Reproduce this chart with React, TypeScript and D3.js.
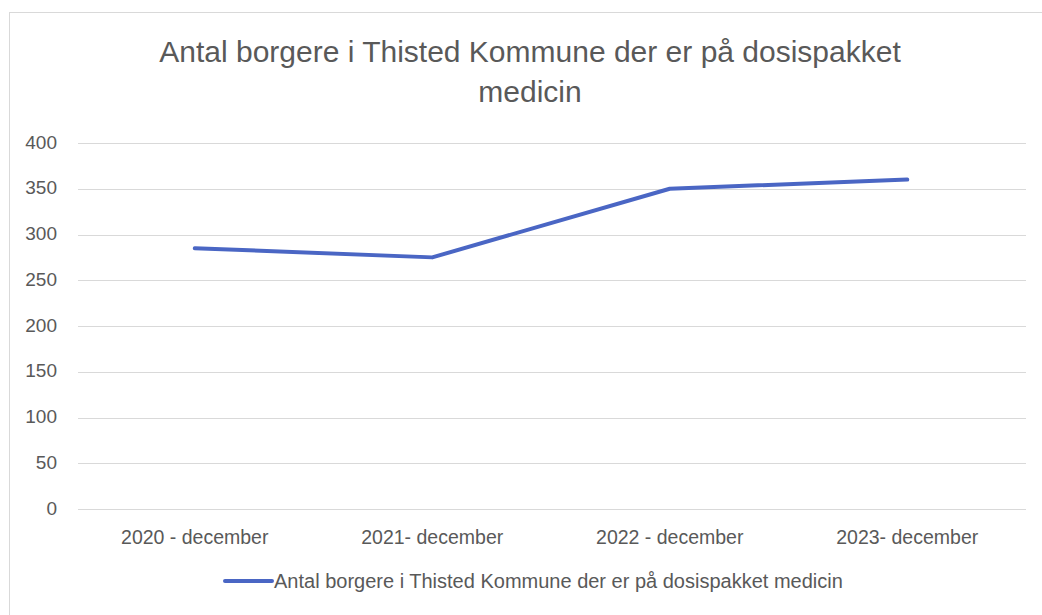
import React, { useRef, useEffect } from 'react';
import * as d3 from 'd3';

const categories = ['2020 - december', '2021- december', '2022 - december', '2023- december'];
const values = [285, 275, 350, 360];
const yTicks = [0, 50, 100, 150, 200, 250, 300, 350, 400];
const titleLines = ['Antal borgere i Thisted Kommune der er på dosispakket', 'medicin'];
const seriesName = 'Antal borgere i Thisted Kommune der er på dosispakket medicin';

const FONT = '"Liberation Sans", Arial, sans-serif';

function App() {
  const ref = useRef<SVGSVGElement>(null);

  useEffect(() => {
    const svg = d3.select(ref.current);
    svg.selectAll('*').remove();

    const width = 1042;
    const margin = { top: 143, right: 16, bottom: 106, left: 76 };
    const height = 615;

    const x = d3.scaleBand()
      .domain(categories)
      .range([margin.left, width - margin.right]);

    const y = d3.scaleLinear()
      .domain([0, 400])
      .range([height - margin.bottom, margin.top]);

    // chart border (right and bottom run off the picture)
    svg.append('rect')
      .attr('x', 9.5).attr('y', 12.5)
      .attr('width', 1040).attr('height', 610)
      .attr('fill', 'white')
      .attr('stroke', '#d9d9d9');

    // title
    svg.append('g')
      .selectAll('text')
      .data(titleLines)
      .join('text')
      .attr('x', 530)
      .attr('y', (d, i) => 62 + i * 40)
      .attr('text-anchor', 'middle')
      .attr('font-family', FONT)
      .attr('font-size', 30)
      .attr('fill', '#595959')
      .text(d => d);

    // gridlines
    svg.append('g')
      .selectAll('line')
      .data(yTicks)
      .join('line')
      .attr('x1', 78).attr('x2', width - margin.right)
      .attr('y1', d => Math.round(y(d)) + 0.5)
      .attr('y2', d => Math.round(y(d)) + 0.5)
      .attr('stroke', '#d9d9d9')
      .attr('stroke-width', 1);

    // y labels
    svg.append('g')
      .selectAll('text')
      .data(yTicks)
      .join('text')
      .attr('x', 57)
      .attr('y', d => y(d) - 1)
      .attr('dy', '0.35em')
      .attr('text-anchor', 'end')
      .attr('font-family', FONT)
      .attr('font-size', 19)
      .attr('fill', '#595959')
      .text(d => d);

    // x labels
    svg.append('g')
      .selectAll('text')
      .data(categories)
      .join('text')
      .attr('x', d => x(d)! + x.bandwidth() / 2)
      .attr('y', 544)
      .attr('text-anchor', 'middle')
      .attr('font-family', FONT)
      .attr('font-size', 19.5)
      .attr('fill', '#595959')
      .text(d => d);

    const line = d3.line<number>()
      .x((d, i) => x(categories[i])! + x.bandwidth() / 2)
      .y(d => y(d));

    svg.append('path')
      .datum(values)
      .attr('d', line)
      .attr('fill', 'none')
      .attr('stroke', '#4a66c4')
      .attr('stroke-width', 4)
      .attr('stroke-linecap', 'round')
      .attr('stroke-linejoin', 'round');

    // legend
    const legend = svg.append('g');
    legend.append('line')
      .attr('x1', 225).attr('x2', 272)
      .attr('y1', 581).attr('y2', 581)
      .attr('stroke', '#4a66c4')
      .attr('stroke-width', 4)
      .attr('stroke-linecap', 'round');
    legend.append('text')
      .attr('x', 274)
      .attr('y', 581)
      .attr('dy', '0.35em')
      .attr('font-family', FONT)
      .attr('font-size', 20)
      .attr('fill', '#595959')
      .text(seriesName);
  }, []);

  return (
    <svg
      ref={ref}
      width={1042}
      height={615}
      style={{ position: 'absolute', left: 0, top: 0, background: 'white' }}
    />
  );
}

export default App;
